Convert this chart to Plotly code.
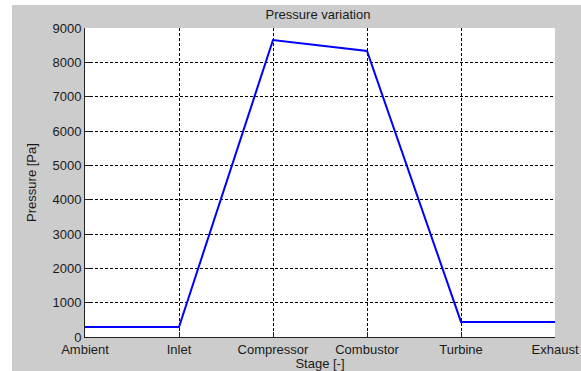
import plotly.graph_objects as go

stages = ["Ambient", "Inlet", "Compressor", "Combustor", "Turbine", "Exhaust"]
pressure = [290, 290, 8650, 8330, 440, 440]
y_ticks = [0, 1000, 2000, 3000, 4000, 5000, 6000, 7000, 8000, 9000]

W, H = 581, 371
L, R, T, B = 85, 26, 28, 34
pw, ph = W - L - R, H - T - B

def px_x(x):
    return (x - L) / pw

def px_y(y):
    return (H - B - y) / ph

fig = go.Figure()
fig.add_trace(go.Scatter(x=stages, y=pressure, mode="lines",
                         line=dict(color="#0000ff", width=2), showlegend=False))

font = dict(family="Liberation Sans, Arial, sans-serif", size=13, color="#1a1a1a")
fig.update_layout(
    width=W, height=H,
    autosize=False,
    margin=dict(l=L, r=R, t=T, b=B, pad=0, autoexpand=False),
    paper_bgcolor="#cccccc",
    plot_bgcolor="white",
    font=font,
    title=dict(text="Pressure variation", x=px_x(318), xanchor="center", xref="paper",
               y=1 - 14 / H, yanchor="middle", font=font),
    xaxis=dict(type="category", range=[0, 5], showgrid=True, gridcolor="black",
               griddash="3px,2px", gridwidth=1, showline=True, linecolor="#222",
               linewidth=1, ticks="inside", ticklen=5, tickcolor="#222",
               zeroline=False, tickfont=font, automargin=False,
               title=dict(text="Stage [-]", standoff=1, font=font)),
    yaxis=dict(range=[0, 9000], tickvals=y_ticks, showgrid=True, gridcolor="black",
               griddash="3px,2px", gridwidth=1, showline=True, linecolor="#222",
               linewidth=1, ticks="inside", ticklen=5, tickcolor="#222",
               zeroline=False, tickfont=font, automargin=False,
               title=dict(text="Pressure [Pa]", standoff=12, font=font)),
    shapes=[
        dict(type="rect", xref="paper", yref="paper", x0=px_x(0), x1=px_x(12),
             y0=px_y(H), y1=px_y(0), fillcolor="white", line=dict(width=0), layer="above"),
        dict(type="rect", xref="paper", yref="paper", x0=px_x(0), x1=px_x(W),
             y0=px_y(5), y1=px_y(0), fillcolor="white", line=dict(width=0), layer="above"),
    ],
)

fig.write_html("out.html", config={"responsive": False})
